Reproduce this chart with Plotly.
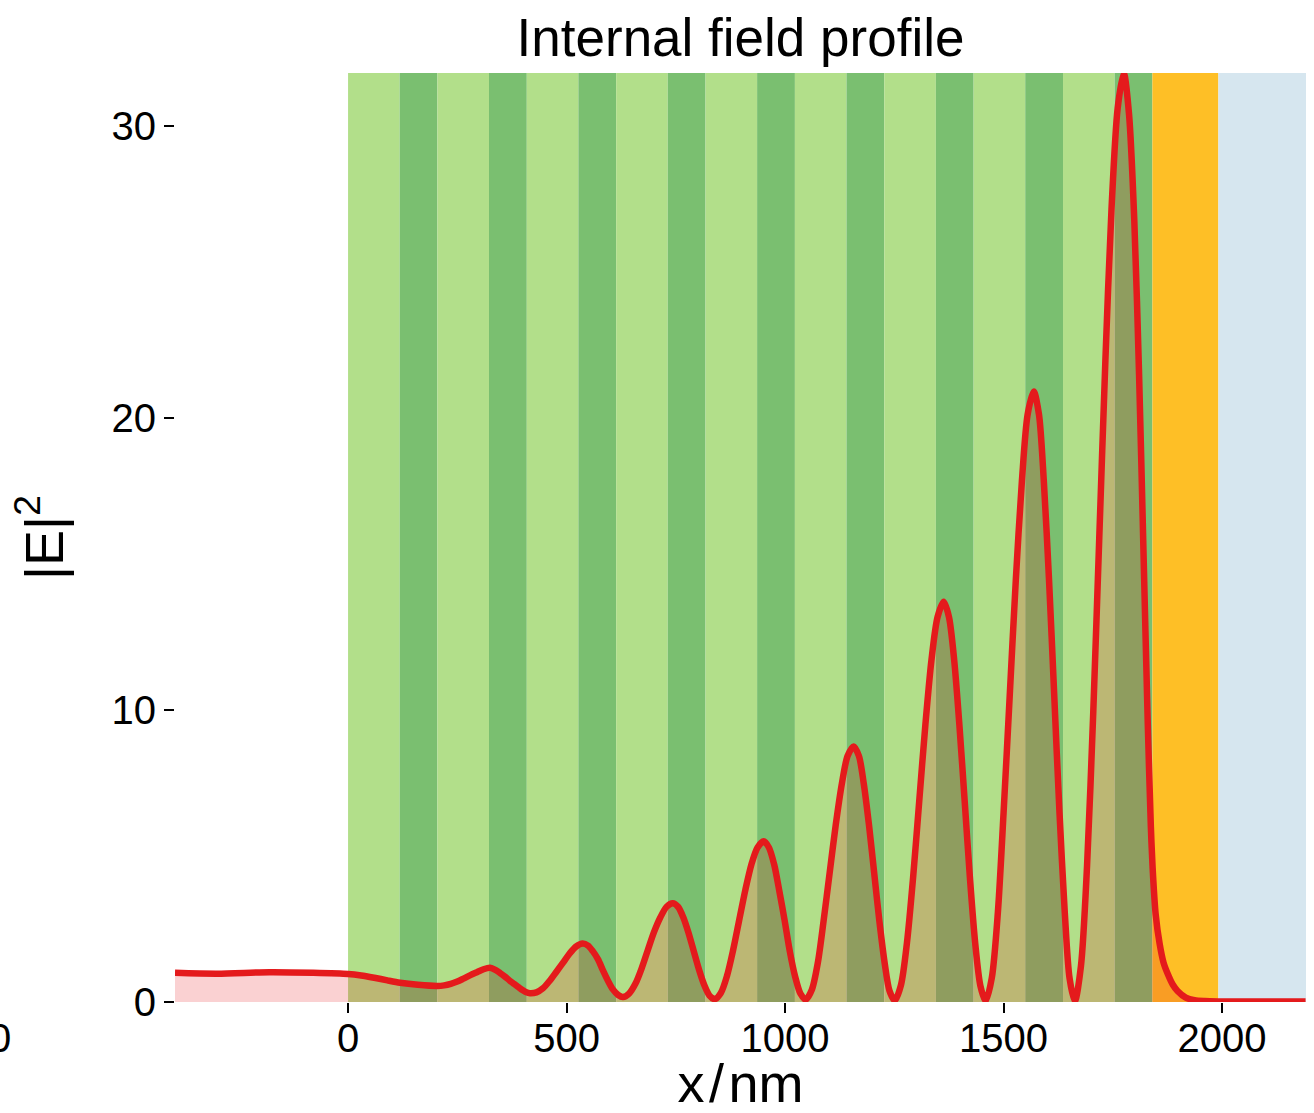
import plotly.graph_objects as go

# ---- data ----
x_nm = [-396, -300, -180, -80, 0, 30, 60, 90, 119, 160, 204,
        220, 235, 250, 264, 280, 295, 310, 325,
        337, 348, 359, 370, 380, 389, 400, 408, 416,
        431, 446, 461, 476, 492, 507, 522, 537,
        549, 560, 572, 583, 595, 606, 618, 629,
        643, 658, 672, 686, 700, 715, 729, 743,
        755, 767, 779, 791, 803, 815, 827, 839,
        853, 867, 881, 895, 909, 923, 937, 951,
        963, 975, 987, 999, 1011, 1023, 1035, 1047,
        1061, 1075, 1088, 1102, 1116, 1130, 1143, 1157,
        1169, 1180, 1192, 1204, 1216, 1228, 1239, 1251,
        1265, 1279, 1293, 1307, 1321, 1335, 1349, 1363,
        1375, 1387, 1399, 1411, 1423, 1435, 1447, 1459,
        1473, 1487, 1500, 1514, 1528, 1542, 1555, 1569,
        1581, 1592, 1604, 1616, 1628, 1640, 1651, 1663,
        1677, 1691, 1705, 1719, 1733, 1747, 1761, 1775,
        1787, 1799, 1810, 1820, 1830, 1837, 1841, 1848, 1857, 1866, 1876, 1887, 1898, 1917, 1937,
        1960, 1992, 2191]
e2 = [1.00, 0.97, 1.02, 1.00, 0.96, 0.91, 0.83, 0.74, 0.66, 0.59, 0.55,
      0.57, 0.62, 0.70, 0.80, 0.92, 1.02, 1.12, 1.17,
      1.10, 0.99, 0.87, 0.73, 0.62, 0.52, 0.40, 0.33, 0.30,
      0.33, 0.47, 0.72, 1.02, 1.35, 1.66, 1.90, 2.00,
      1.93, 1.74, 1.46, 1.09, 0.72, 0.43, 0.24, 0.17,
      0.29, 0.64, 1.16, 1.78, 2.39, 2.91, 3.26, 3.38,
      3.26, 2.90, 2.37, 1.74, 1.11, 0.58, 0.22, 0.10,
      0.31, 0.89, 1.77, 2.80, 3.83, 4.71, 5.29, 5.50,
      5.29, 4.71, 3.79, 2.79, 1.72, 0.87, 0.29, 0.08,
      0.41, 1.35, 2.76, 4.42, 6.07, 7.48, 8.42, 8.75,
      8.42, 7.48, 6.06, 4.40, 2.74, 1.32, 0.38, 0.05,
      0.57, 2.04, 4.27, 6.88, 9.48, 11.71, 13.18, 13.70,
      13.18, 11.70, 9.46, 6.87, 4.25, 2.02, 0.55, 0.03,
      0.82, 3.08, 6.48, 10.47, 14.45, 17.85, 20.11, 20.90,
      20.11, 17.85, 14.45, 10.46, 6.47, 3.07, 0.81, 0.02,
      1.23, 4.66, 9.84, 15.91, 21.98, 27.16, 30.59, 31.80,
      30.40, 26.80, 21.50, 15.50, 9.50, 6.00, 4.60, 3.00, 2.00, 1.35, 0.95, 0.60, 0.38, 0.15, 0.06,
      0.03, 0.02, 0.02]

# layer stack (thickness in nm) starting at x = 0
layer_thickness = [118, 86.5] * 9 + [151, 400]
layer_colors = ["#b2df8a", "rgb(122,191,112)"] * 9 + ["rgb(254,191,38)", "rgb(214,230,239)"]

x_ticks = [0, 500, 1000, 1500, 2000]
y_ticks = [0, 10, 20, 30]

FONT = "Liberation Sans, Arial, Helvetica, sans-serif"

fig = go.Figure()

# layer shading
shapes = []
pos = 0.0
for t, c in zip(layer_thickness, layer_colors):
    shapes.append(dict(type="rect", xref="x", yref="paper", x0=pos, x1=pos + t, y0=0, y1=1,
                       fillcolor=c, line=dict(width=0), layer="below"))
    pos += t

fig.add_trace(go.Scatter(
    x=x_nm, y=e2, mode="lines",
    line=dict(color="#e41a1c", width=6.5, shape="spline", smoothing=0.8),
    fill="tozeroy", fillcolor="rgba(228,26,28,0.2)",
    hoverinfo="skip"))

axis_common = dict(showgrid=False, zeroline=False, showline=False, ticks="outside",
                   ticklen=10, tickwidth=2, tickcolor="black", automargin=False,
                   tickfont=dict(family=FONT, size=40, color="black"))

fig.update_layout(
    width=1314, height=1113,
    margin=dict(l=175, r=8, t=73, b=111, autoexpand=False),
    paper_bgcolor="white", plot_bgcolor="white",
    showlegend=False,
    shapes=shapes,
    title=dict(text="Internal field profile", x=0.5, xref="paper", xanchor="center",
               y=1 - 37 / 1113, yref="container", yanchor="middle",
               font=dict(family=FONT, size=53, color="black")),
    xaxis=dict(range=[-396, 2192], tickvals=x_ticks, ticktext=[str(v) for v in x_ticks],
               ticklabelstandoff=-9,
               title=dict(text="x\u200a/\u200anm", font=dict(family=FONT, size=54, color="black"), standoff=13),
               **axis_common),
    yaxis=dict(range=[0, 31.8], tickvals=y_ticks, ticktext=[str(v) for v in y_ticks],
               title=dict(text="|E|<sup>2</sup>", font=dict(family=FONT, size=54, color="black"), standoff=30),
               **axis_common),
    annotations=[dict(text="0", xref="paper", yref="paper", x=-175 / 1131, y=-36 / 929,
                      xanchor="center", yanchor="middle", showarrow=False,
                      font=dict(family=FONT, size=40, color="black"))],
)

fig.write_html("out.html")
